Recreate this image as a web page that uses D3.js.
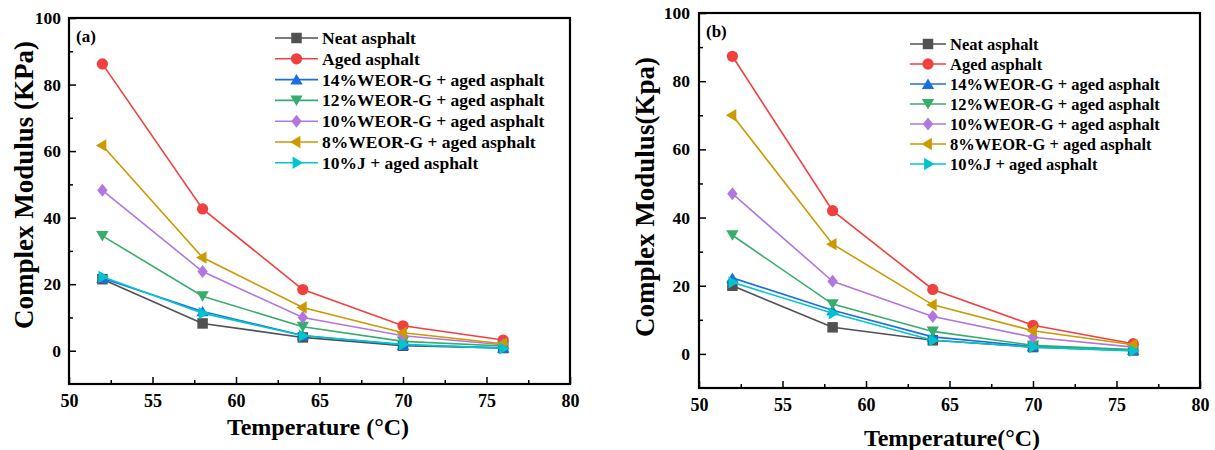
<!DOCTYPE html>
<html>
<head>
<meta charset="utf-8">
<script src="https://cdn.jsdelivr.net/npm/d3@7"></script>
<style>
  html, body { margin: 0; padding: 0; background: #fff; }
  svg { display: block; }
  text { font-family: "Liberation Serif", "Times New Roman", serif; font-weight: bold; fill: #000; }
</style>
</head>
<body>
<svg id="chart" width="1215" height="450"></svg>
<script>
// Test temperatures (°C)
const temperatures = [52, 58, 64, 70, 76];

const seriesNames = [
  "Neat asphalt",
  "Aged asphalt",
  "14%WEOR-G + aged asphalt",
  "12%WEOR-G + aged asphalt",
  "10%WEOR-G + aged asphalt",
  "8%WEOR-G + aged asphalt",
  "10%J + aged asphalt"
];

const seriesColors = ["#515151", "#F14040", "#1A6FDF", "#37AD6B", "#B177DE", "#CC9900", "#00C5CC"];
const seriesSymbols = ["square", "circle", "triangleUp", "triangleDown", "diamond", "triangleLeft", "triangleRight"];

// Panel (a): complex modulus, KPa
const neatA   = [21.5, 8.2, 4.0, 1.5, 0.8];
const agedA   = [86.2, 42.6, 18.4, 7.5, 3.2];
const weor14A = [21.8, 11.8, 4.6, 1.7, 0.9];
const weor12A = [34.5, 16.4, 7.2, 2.8, 1.4];
const weor10A = [48.2, 23.8, 10.0, 4.5, 1.8];
const weor8A  = [61.7, 28.0, 13.0, 5.4, 2.1];
const j10A    = [22.2, 11.3, 4.5, 1.9, 0.7];

// Panel (b): complex modulus, Kpa
const neatB   = [20.0, 7.8, 4.0, 2.0, 1.0];
const agedB   = [87.3, 42.0, 18.9, 8.4, 3.0];
const weor14B = [22.3, 12.8, 5.0, 2.2, 1.1];
const weor12B = [34.8, 14.6, 6.6, 2.5, 1.3];
const weor10B = [47.0, 21.3, 11.0, 4.9, 2.0];
const weor8B  = [70.0, 32.2, 14.4, 6.8, 2.7];
const j10B    = [21.0, 11.9, 4.0, 2.0, 0.9];

const xTicks = [50, 55, 60, 65, 70, 75, 80];
const yTicks = [0, 20, 40, 60, 80, 100];

const svg = d3.select("#chart");

function symbolPath(kind, size) {
  const s = size;
  switch (kind) {
    case "square": return d3.symbol(d3.symbolSquare, s * s)();
    case "circle": return d3.symbol(d3.symbolCircle, Math.PI * (s / 2) * (s / 2) * 1.15)();
    case "diamond": {
      const r = s * 0.62;
      return `M0,${-r}L${r * 0.8},0L0,${r}L${-r * 0.8},0Z`;
    }
    default: {
      const r = s * 0.62;
      const tri = [[0, -r], [r * 0.95, r * 0.6], [-r * 0.95, r * 0.6]];
      const rot = { triangleUp: 0, triangleDown: 180, triangleLeft: -90, triangleRight: 90 }[kind];
      const a = rot * Math.PI / 180;
      const pts = tri.map(([x, y]) => [x * Math.cos(a) - y * Math.sin(a), x * Math.sin(a) + y * Math.cos(a) + (kind === "triangleUp" ? 1 : kind === "triangleDown" ? -1 : 0)]);
      return "M" + pts.map(p => p.join(",")).join("L") + "Z";
    }
  }
}

function drawPanel(cfg) {
  const g = svg.append("g");
  const x = d3.scaleLinear().domain([50, 80]).range([cfg.left, cfg.right]);
  const y = d3.scaleLinear().domain([-10, 100]).range([cfg.bottom, cfg.top]);

  // frame
  g.append("rect")
    .attr("x", cfg.left).attr("y", cfg.top)
    .attr("width", cfg.right - cfg.left).attr("height", cfg.bottom - cfg.top)
    .attr("fill", "none").attr("stroke", "#000").attr("stroke-width", 2.2);

  // bottom axis: inward ticks
  const xAxis = d3.axisBottom(x).tickValues(xTicks).tickSize(-7).tickPadding(10).tickFormat(d3.format("d"));
  const xa = g.append("g").attr("transform", `translate(0,${cfg.bottom})`).call(xAxis);
  xa.select(".domain").remove();
  xa.selectAll("line").attr("stroke-width", 1.5);
  xa.selectAll("text").attr("font-size", 18).attr("font-family", "Liberation Serif").attr("font-weight", "bold");
  const xMinor = d3.axisBottom(x).tickValues(d3.range(52.5, 80, 5)).tickSize(-4).tickFormat("");
  const xm = g.append("g").attr("transform", `translate(0,${cfg.bottom})`).call(xMinor);
  xm.select(".domain").remove();
  xm.selectAll("line").attr("stroke-width", 1.5);

  // left axis: inward ticks
  const yAxis = d3.axisLeft(y).tickValues(yTicks).tickSize(-7).tickPadding(cfg.yPad).tickFormat(d3.format("d"));
  const ya = g.append("g").attr("transform", `translate(${cfg.left},0)`).call(yAxis);
  ya.select(".domain").remove();
  ya.selectAll("line").attr("stroke-width", 1.5);
  ya.selectAll("text").attr("font-size", 17.5).attr("font-family", "Liberation Serif").attr("font-weight", "bold");
  const yMinor = d3.axisLeft(y).tickValues([10, 30, 50, 70, 90]).tickSize(-4).tickFormat("");
  const ym = g.append("g").attr("transform", `translate(${cfg.left},0)`).call(yMinor);
  ym.select(".domain").remove();
  ym.selectAll("line").attr("stroke-width", 1.5);

  // axis titles
  g.append("text")
    .attr("x", cfg.xTitleX).attr("y", cfg.xTitleY)
    .attr("text-anchor", "middle").attr("font-size", 24)
    .text(cfg.xTitle);
  g.append("text")
    .attr("transform", `translate(${cfg.yTitleX},${cfg.yTitleY}) rotate(-90)`)
    .attr("text-anchor", "middle").attr("font-size", 27)
    .text(cfg.yTitle);

  // panel label
  g.append("text")
    .attr("x", cfg.left + 7).attr("y", cfg.top + 24)
    .attr("font-size", 17).text(cfg.label);

  const line = d3.line().x((d, i) => x(temperatures[i])).y(d => y(d));

  cfg.series.forEach((vals, k) => {
    const sg = g.append("g");
    sg.append("path").datum(vals)
      .attr("d", line).attr("fill", "none")
      .attr("stroke", seriesColors[k]).attr("stroke-width", 1.6);
    sg.selectAll("path.m").data(vals).join("path")
      .attr("class", "m")
      .attr("transform", (d, i) => `translate(${x(temperatures[i])},${y(d)})`)
      .attr("d", symbolPath(seriesSymbols[k], 10.5))
      .attr("fill", seriesColors[k]);
  });

  // legend
  const lg = g.append("g").attr("transform", `translate(${cfg.legX},${cfg.legY})`);
  seriesNames.forEach((name, k) => {
    const row = lg.append("g").attr("transform", `translate(0,${k * cfg.legStep})`);
    row.append("line").attr("x1", 0).attr("x2", cfg.legLine).attr("y1", 0).attr("y2", 0)
      .attr("stroke", seriesColors[k]).attr("stroke-width", 1.6);
    row.append("path").attr("transform", `translate(${cfg.legLine / 2},0)`)
      .attr("d", symbolPath(seriesSymbols[k], 10.5)).attr("fill", seriesColors[k]);
    row.append("text").attr("x", cfg.legLine + 4).attr("y", 6)
      .attr("font-size", cfg.legFont).text(name);
  });
}

drawPanel({
  left: 69, right: 570, top: 18, bottom: 384, yPad: 8,
  label: "(a)",
  xTitle: "Temperature (°C)", xTitleX: 318, xTitleY: 435,
  yTitle: "Complex Modulus (KPa)", yTitleX: 33, yTitleY: 185,
  series: [neatA, agedA, weor14A, weor12A, weor10A, weor8A, j10A],
  legX: 275, legY: 38, legStep: 20.8, legLine: 43, legFont: 17.5
});

drawPanel({
  left: 699, right: 1200, top: 13, bottom: 388, yPad: 9,
  label: "(b)",
  xTitle: "Temperature(°C)", xTitleX: 952, xTitleY: 446,
  yTitle: "Complex Modulus(Kpa)", yTitleX: 654, yTitleY: 197,
  series: [neatB, agedB, weor14B, weor12B, weor10B, weor8B, j10B],
  legX: 910, legY: 44, legStep: 20, legLine: 36, legFont: 16.5
});
</script>
</body>
</html>
